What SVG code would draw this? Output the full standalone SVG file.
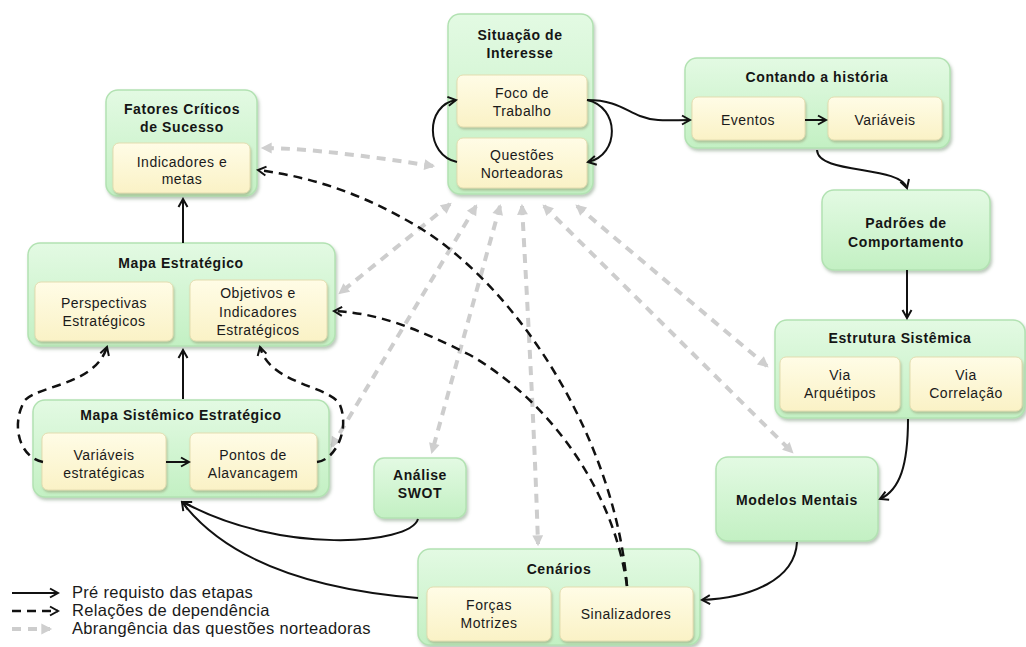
<svg xmlns="http://www.w3.org/2000/svg" width="1026" height="647" viewBox="0 0 1026 647">
<defs>
<linearGradient id="gG" x1="0" y1="0" x2="0" y2="1"><stop offset="0" stop-color="#e3fae3"/><stop offset="1" stop-color="#c3f0c3"/></linearGradient>
<linearGradient id="gY" x1="0" y1="0" x2="0" y2="1"><stop offset="0" stop-color="#fffce6"/><stop offset="1" stop-color="#faf2c6"/></linearGradient>
<filter id="sh" x="-10%" y="-10%" width="130%" height="130%"><feDropShadow dx="1.5" dy="2.5" stdDeviation="1.8" flood-color="#6a8a6a" flood-opacity="0.45"/></filter>
<filter id="sh2" x="-10%" y="-10%" width="130%" height="130%"><feDropShadow dx="1" dy="2" stdDeviation="1.2" flood-color="#8a8a60" flood-opacity="0.45"/></filter>
<marker id="aS" viewBox="0 0 12 12" refX="10" refY="6" markerWidth="12" markerHeight="12" markerUnits="userSpaceOnUse" orient="auto"><path d="M2,1.5 L10,6 L2,10.5" fill="none" stroke="#111" stroke-width="2"/></marker>
<marker id="aD" viewBox="0 0 12 12" refX="10" refY="6" markerWidth="12" markerHeight="12" markerUnits="userSpaceOnUse" orient="auto"><path d="M2,1.5 L10,6 L2,10.5" fill="none" stroke="#111" stroke-width="2"/></marker>
<marker id="aG" viewBox="0 0 12 12" refX="9" refY="6" markerWidth="13" markerHeight="13" markerUnits="userSpaceOnUse" orient="auto-start-reverse"><path d="M1,1 L11,6 L1,11 Z" fill="#cfcfcf"/></marker>
<style>
.box{fill:url(#gG);stroke:#b2e2b2;stroke-width:1.5;filter:url(#sh)}
.in{fill:url(#gY);stroke:#e4ddb0;stroke-width:1;filter:url(#sh2)}
.t{font-family:"Liberation Sans",Arial,sans-serif;font-size:14px;font-weight:bold;fill:#151515;text-anchor:middle;letter-spacing:0.6px}
.s{font-family:"Liberation Sans",Arial,sans-serif;font-size:14px;fill:#1a1a1a;text-anchor:middle;letter-spacing:0.5px}
.lg{font-family:"Liberation Sans",Arial,sans-serif;font-size:16.5px;fill:#1a1a1a;letter-spacing:0.3px}
.sol{fill:none;stroke:#111;stroke-width:2;marker-end:url(#aS)}
.dsh{fill:none;stroke:#111;stroke-width:2.5;stroke-dasharray:9 6;marker-end:url(#aD)}
.gr{fill:none;stroke:#cdcdcd;stroke-width:4;stroke-dasharray:9 7;marker-end:url(#aG);marker-start:url(#aG)}
</style>
</defs>
<rect width="1026" height="647" fill="#ffffff"/>

<g id="connectors-gray">
<path class="gr" d="M433,166 C380,158 310,148 263,148"/>
<path class="gr" d="M450,204 L340,293"/>
<path class="gr" d="M476,206 L332,446"/>
<path class="gr" d="M500,206 L432,452"/>
<path class="gr" d="M522,206 C530,350 535,450 538,544"/>
<path class="gr" d="M544,206 L792,452"/>
<path class="gr" d="M577,206 L767,366"/>
</g>

<g id="sit">
<rect class="box" x="448" y="14" width="145" height="180" rx="12"/>
<text class="t" x="520" y="40">Situação de</text>
<text class="t" x="520" y="58">Interesse</text>
<rect class="in" x="457" y="75" width="130" height="52" rx="6"/>
<text class="s" x="522" y="98">Foco de</text>
<text class="s" x="522" y="116">Trabalho</text>
<rect class="in" x="457" y="138" width="130" height="50" rx="6"/>
<text class="s" x="522" y="160">Questões</text>
<text class="s" x="522" y="178">Norteadoras</text>
</g>

<g id="cont">
<rect class="box" x="685" y="58" width="265" height="90" rx="12"/>
<text class="t" x="817" y="82">Contando a história</text>
<rect class="in" x="692" y="97" width="113" height="43" rx="6"/>
<text class="s" x="748" y="125">Eventos</text>
<rect class="in" x="828" y="97" width="114" height="43" rx="6"/>
<text class="s" x="885" y="125">Variáveis</text>
</g>

<g id="pad">
<rect class="box" x="822" y="190" width="168" height="80" rx="12"/>
<text class="t" x="906" y="228">Padrões de</text>
<text class="t" x="906" y="247">Comportamento</text>
</g>

<g id="est">
<rect class="box" x="775" y="320" width="250" height="98" rx="12"/>
<text class="t" x="900" y="343">Estrutura Sistêmica</text>
<rect class="in" x="780" y="357" width="120" height="54" rx="6"/>
<text class="s" x="840" y="380">Via</text>
<text class="s" x="840" y="398">Arquétipos</text>
<rect class="in" x="910" y="357" width="112" height="54" rx="6"/>
<text class="s" x="966" y="380">Via</text>
<text class="s" x="966" y="398">Correlação</text>
</g>

<g id="mod">
<rect class="box" x="716" y="457" width="162" height="84" rx="12"/>
<text class="t" x="797" y="505">Modelos Mentais</text>
</g>

<g id="cen">
<rect class="box" x="418" y="549" width="282" height="96" rx="12"/>
<text class="t" x="559" y="574">Cenários</text>
<rect class="in" x="427" y="587" width="124" height="54" rx="6"/>
<text class="s" x="489" y="610">Forças</text>
<text class="s" x="489" y="628">Motrizes</text>
<rect class="in" x="560" y="587" width="133" height="54" rx="6"/>
<text class="s" x="626" y="619">Sinalizadores</text>
</g>

<g id="swot">
<rect class="box" x="374" y="458" width="92" height="60" rx="10"/>
<text class="t" x="420" y="480">Análise</text>
<text class="t" x="420" y="498">SWOT</text>
</g>

<g id="ms">
<rect class="box" x="33" y="400" width="296" height="97" rx="12"/>
<text class="t" x="181" y="420">Mapa Sistêmico Estratégico</text>
<rect class="in" x="42" y="433" width="124" height="57" rx="6"/>
<text class="s" x="104" y="460">Variáveis</text>
<text class="s" x="104" y="478">estratégicas</text>
<rect class="in" x="190" y="433" width="127" height="57" rx="6"/>
<text class="s" x="253" y="460">Pontos de</text>
<text class="s" x="253" y="478">Alavancagem</text>
</g>

<g id="me">
<rect class="box" x="28" y="243" width="307" height="103" rx="12"/>
<text class="t" x="181" y="268">Mapa Estratégico</text>
<rect class="in" x="35" y="282" width="138" height="59" rx="6"/>
<text class="s" x="104" y="308">Perspectivas</text>
<text class="s" x="104" y="326">Estratégicos</text>
<rect class="in" x="190" y="280" width="137" height="61" rx="6"/>
<text class="s" x="258" y="298">Objetivos e</text>
<text class="s" x="258" y="317">Indicadores</text>
<text class="s" x="258" y="335">Estratégicos</text>
</g>

<g id="fcs">
<rect class="box" x="106" y="90" width="151" height="106" rx="12"/>
<text class="t" x="182" y="114">Fatores Críticos</text>
<text class="t" x="182" y="132">de Sucesso</text>
<rect class="in" x="113" y="143" width="137" height="50" rx="6"/>
<text class="s" x="182" y="167">Indicadores e</text>
<text class="s" x="182" y="184">metas</text>
</g>

<g id="connectors">
<path class="sol" d="M183,243 L183,199"/>
<path class="sol" d="M183,399 L183,350"/>
<path class="sol" d="M166,462 L189,462"/>
<path class="sol" d="M457,162 C425,155 425,105 456,100"/>
<path class="sol" d="M587,100 C620,107 620,155 588,162"/>
<path class="sol" d="M587,100 C615,100 625,110 640,116 S670,120 690,120"/>
<path class="sol" d="M805,120 L826,120"/>
<path class="sol" d="M817,150 C818,175 900,165 907,188"/>
<path class="sol" d="M907,270 L907,318"/>
<path class="sol" d="M908,419 C908,465 900,490 880,499"/>
<path class="sol" d="M797,542 C795,580 750,598 702,600"/>
<path class="sol" d="M418,519 C410,545 280,555 183,502"/>
<path class="sol" d="M418,598 C320,590 230,565 182,502"/>
<path class="dsh" d="M43,462 C20,458 10,425 25,400 C40,385 95,385 107,347"/>
<path class="dsh" d="M317,462 C335,460 350,430 340,405 C330,385 270,385 260,347"/>
<path class="dsh" d="M627,586 C615,440 520,290 420,228 C370,198 320,178 258,170"/>
<path class="dsh" d="M627,586 C612,480 540,395 470,355 C420,330 380,313 334,311"/>
</g>

<g id="legend">
<path class="sol" d="M12,593 L58,593"/>
<path class="dsh" d="M12,611 L58,611"/>
<path d="M12,629 L50,629" fill="none" stroke="#cdcdcd" stroke-width="4" stroke-dasharray="9 7" marker-end="url(#aG)"/>
<text class="lg" x="72" y="598">Pré requisto das etapas</text>
<text class="lg" x="72" y="616">Relações de dependência</text>
<text class="lg" x="72" y="634">Abrangência das questões norteadoras</text>
</g>
</svg>
